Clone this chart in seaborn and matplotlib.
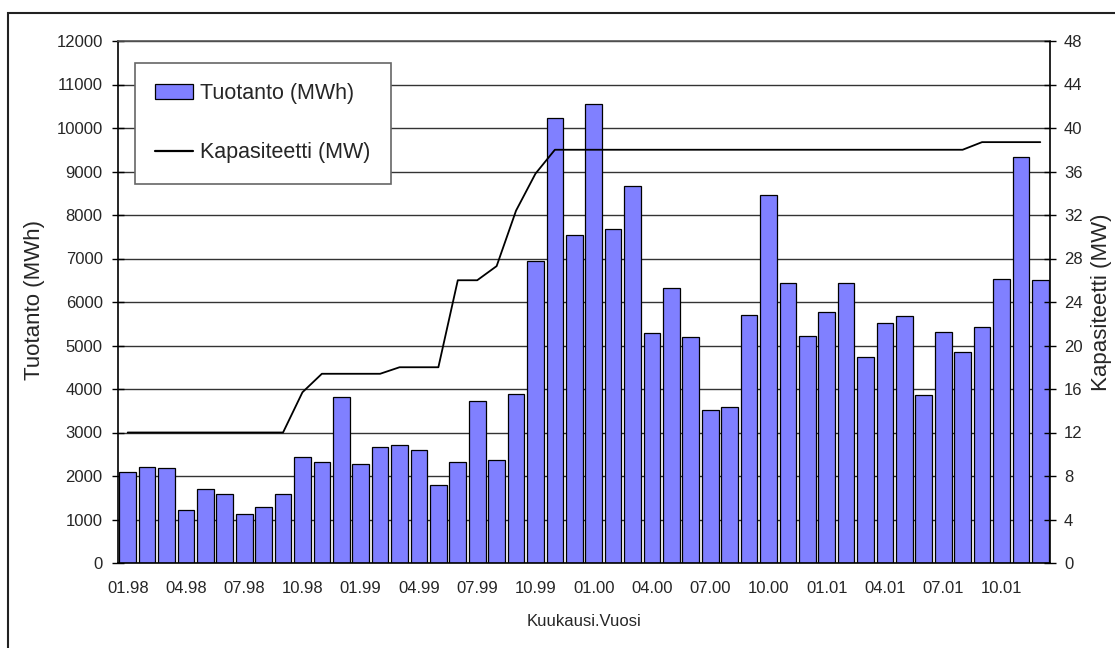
import matplotlib
matplotlib.use("Agg")
import matplotlib.pyplot as plt
from matplotlib.patches import Rectangle, Patch
from matplotlib.lines import Line2D
import numpy as np
import pandas as pd
import seaborn as sns

# Monthly categories 01.98 ... 12.01
years = ["98", "99", "00", "01"]
months = [f"{m:02d}.{y}" for y in years for m in range(1, 13)]

# Monthly wind power production (MWh)
production = [2090, 2215, 2185, 1225, 1700, 1575, 1115, 1285, 1575, 2445,
              2315, 3825, 2285, 2675, 2710, 2600, 1800, 2315, 3730, 2375,
              3890, 6940, 10225, 7540, 10545, 7680, 8675, 5285, 6325, 5185,
              3515, 3575, 5710, 8460, 6445, 5215, 5770, 6445, 4730, 5515,
              5675, 3870, 5310, 4840, 5415, 6540, 9325, 6515]

# Installed capacity (MW) at each month
capacity = [12, 12, 12, 12, 12, 12, 12, 12, 12, 15.7,
            17.4, 17.4, 17.4, 17.4, 18, 18, 18, 26, 26, 27.3,
            32.4, 35.8, 38, 38, 38, 38, 38, 38, 38, 38,
            38, 38, 38, 38, 38, 38, 38, 38, 38, 38,
            38, 38, 38, 38, 38.7, 38.7, 38.7, 38.7]

tick_labels = ["01.98", "04.98", "07.98", "10.98", "01.99", "04.99", "07.99",
               "10.99", "01.00", "04.00", "07.00", "10.00", "01.01", "04.01",
               "07.01", "10.01"]

left_ticks = list(range(0, 12001, 1000))
right_ticks = list(range(0, 49, 4))

sns.set_theme(style="white")
plt.rcParams["font.family"] = ["Liberation Sans", "DejaVu Sans"]

bar_color = "#8080FF"
df = pd.DataFrame({"month": months, "production": production, "capacity": capacity})

fig = plt.figure(figsize=(11.15, 6.48), dpi=100)
ax = fig.add_axes([118 / 1115, 1 - 563 / 648, 932 / 1115, 522 / 648])

sns.barplot(data=df, x="month", y="production", order=months, color=bar_color,
            saturation=1, edgecolor="black", linewidth=0.9, width=0.86, ax=ax)

ax.set_xlim(-0.5, len(months) - 0.5)
ax.set_ylim(0, 12000)
ax.set_yticks(left_ticks)
ax.set_yticklabels([str(t) for t in left_ticks], fontsize=12)
ax.set_axisbelow(True)
ax.yaxis.grid(True, color="#333333", linewidth=1.0)
ax.xaxis.grid(False)

# Labels centred on bars, tick marks on category boundaries
label_pos = [months.index(l) for l in tick_labels]
ax.set_xticks(label_pos)
ax.set_xticklabels(tick_labels, fontsize=12)
ax.tick_params(axis="x", which="major", length=0, pad=13)
boundaries = [p - 0.5 for p in label_pos] + [len(months) - 0.5]
ax.set_xticks(boundaries, minor=True)
ax.tick_params(axis="x", which="minor", direction="inout", length=6.5,
               width=1, color="black")
ax.tick_params(axis="y", direction="inout", length=8, width=1, color="black",
               pad=7, left=True)
ax.set_xlabel("")
ax.set_ylabel("")

for side in ["left", "bottom", "right"]:
    ax.spines[side].set_color("black")
    ax.spines[side].set_linewidth(1.2)
ax.spines["top"].set_color("#555555")
ax.spines["top"].set_linewidth(1.2)

ax2 = ax.twinx()
ax2.plot(np.arange(len(months)), capacity, color="black", linewidth=1.3)
ax2.set_ylim(0, 48)
ax2.set_yticks(right_ticks)
ax2.set_yticklabels([str(t) for t in right_ticks], fontsize=12)
ax2.tick_params(axis="y", direction="inout", length=8, width=1, color="black",
                pad=6, right=True)
ax2.grid(False)
for side in ["left", "bottom", "right", "top"]:
    ax2.spines[side].set_visible(False)
ax2.set_ylabel("")

handles = [Patch(facecolor=bar_color, edgecolor="black", linewidth=0.9),
           Line2D([0], [0], color="black", linewidth=1.6)]
leg = ax2.legend(handles, ["Tuotanto (MWh)", "Kapasiteetti (MW)"],
                 loc="upper left", bbox_to_anchor=(0.018, 0.958),
                 borderaxespad=0, fontsize=15.5, frameon=True, fancybox=False,
                 framealpha=1, edgecolor="#666666", borderpad=0.95,
                 labelspacing=1.75, handlelength=1.75, handleheight=0.7,
                 handletextpad=0.35)
leg.get_frame().set_linewidth(1.2)

fig.text(35 / 1115, 1 - 300 / 648, "Tuotanto (MWh)", rotation=90,
         ha="center", va="center", fontsize=16)
fig.text(1102 / 1115, 1 - 302 / 648, "Kapasiteetti (MW)", rotation=90,
         ha="center", va="center", fontsize=16)
fig.text(584 / 1115, 1 - 621 / 648, "Kuukausi.Vuosi", ha="center",
         va="center", fontsize=12)

# Chart-area frame
fig.add_artist(Rectangle((8 / 1115, -0.05), 1.1, 0.05 + (1 - 13 / 648),
                         transform=fig.transFigure, fill=False,
                         edgecolor="#222222", linewidth=1.5, clip_on=False))

fig.savefig("out.png", dpi=100)
